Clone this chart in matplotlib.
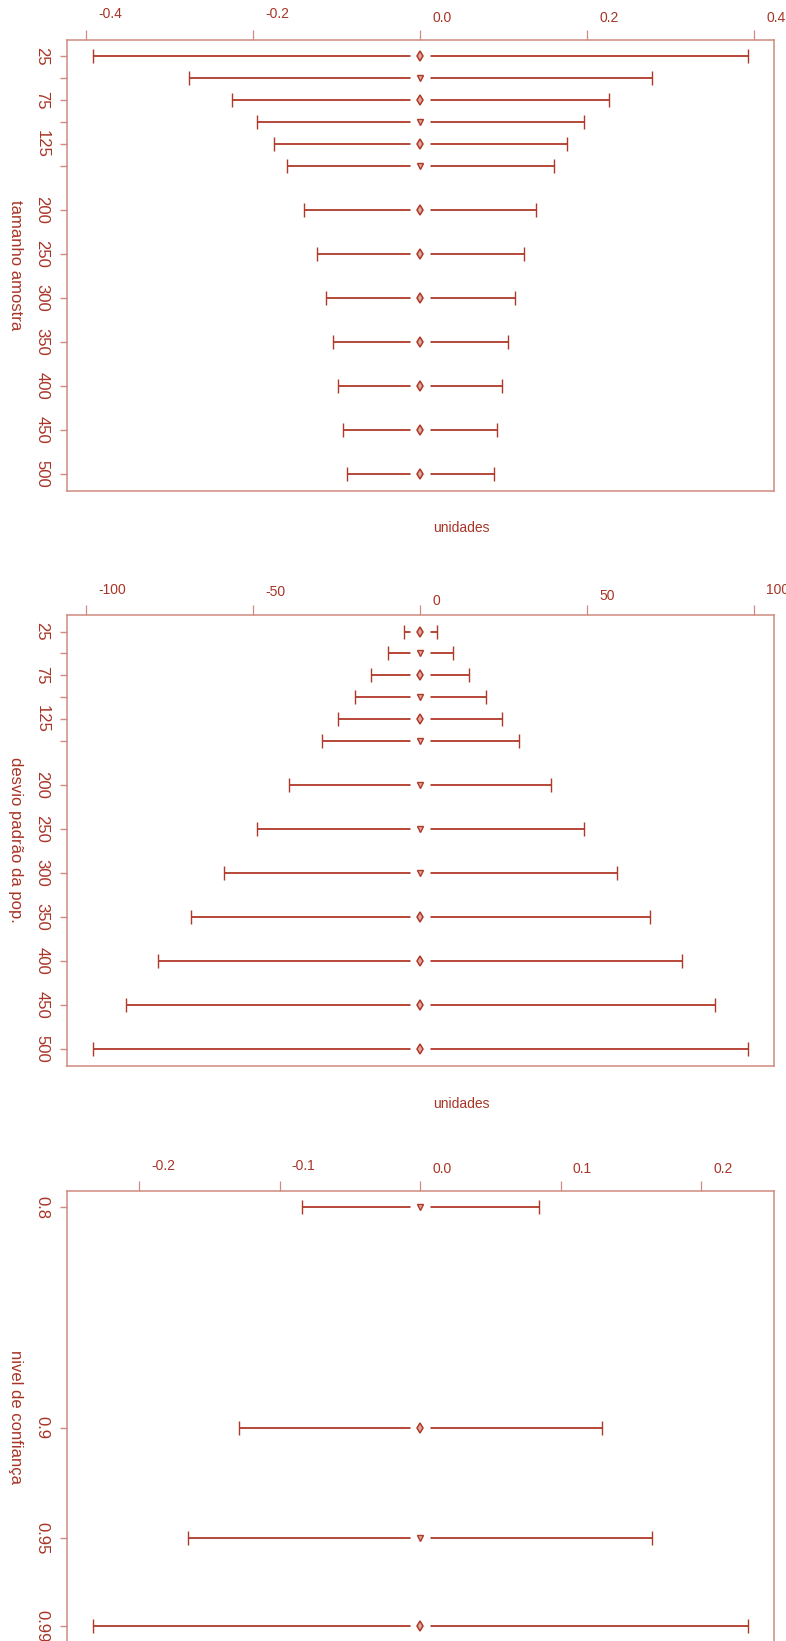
import matplotlib
matplotlib.use('Agg')
import matplotlib.pyplot as plt
from matplotlib.path import Path

# ---------------- data ----------------
sample_sizes = [25, 50, 75, 100, 125, 150, 200, 250, 300, 350, 400, 450, 500]
sample_labels = ['25', '', '75', '', '125', '', '200', '250', '300', '350', '400', '450', '500']
halfwidth_n = [0.392, 0.277, 0.226, 0.196, 0.175, 0.160, 0.139, 0.124, 0.113, 0.105, 0.098, 0.092, 0.088]
markers_n = ['d', 'v', 'd', 'v', 'd', 'v', 'd', 'd', 'd', 'd', 'd', 'd', 'd']
xticks_n = [-0.4, -0.2, 0.0, 0.2, 0.4]
xticklabels_n = ['-0.4', '-0.2', '0.0', '0.2', '0.4']

pop_sd = [25, 50, 75, 100, 125, 150, 200, 250, 300, 350, 400, 450, 500]
pop_sd_labels = ['25', '', '75', '', '125', '', '200', '250', '300', '350', '400', '450', '500']
halfwidth_sd = [4.9, 9.8, 14.7, 19.6, 24.5, 29.4, 39.2, 49.0, 58.8, 68.6, 78.4, 88.2, 98.0]
markers_sd = ['d', 'v', 'd', 'v', 'd', 'v', 'v', 'v', 'v', 'd', 'd', 'd', 'd']
xticks_sd = [-100, -50, 0, 50, 100]
xticklabels_sd = ['-100', '-50', '0', '50', '100']

conf_levels = [0.8, 0.9, 0.95, 0.99]
conf_labels = ['0.8', '0.9', '0.95', '0.99']
halfwidth_conf = [0.0845, 0.129, 0.165, 0.233]
markers_conf = ['v', 'd', 'v', 'd']
xticks_conf = [-0.2, -0.1, 0.0, 0.1, 0.2]
xticklabels_conf = ['-0.2', '-0.1', '0.0', '0.1', '0.2']

point_estimate = 0.0  # every interval is centred on 0

# ---------------- style ----------------
LINE = '#B03828'
TXT = '#A83426'
BOX = '#D08A80'
NARROW = ['Liberation Sans Narrow', 'Liberation Sans']
REG = ['Liberation Sans', 'DejaVu Sans']
FS_H = 10.0
FS_V = 12

W, H = 786, 1641
fig = plt.figure(figsize=(W / 100, H / 100), dpi=100)


def rect(top_px, height_px=451.0, left_px=66.7, right_px=774.0):
    return [left_px / W, 1 - (top_px + height_px) / H, (right_px - left_px) / W, height_px / H]


gap_marker = Path([(-1, -0.2), (1, -0.2), (1, 0.2), (-1, 0.2), (-1, -0.2)],
                  [Path.MOVETO, Path.LINETO, Path.LINETO, Path.LINETO, Path.CLOSEPOLY])

tick_texts = []


def panel(ax, yvals, ylabels, hws, mks, xticks, xticklabels, ylabel, xlabel):
    hi = max(hws)
    pad = 0.04 * (2 * hi)
    ax.set_xlim(-hi - pad, hi + pad)
    ylo, yhi = min(yvals), max(yvals)
    ypad = 0.04 * (yhi - ylo)
    ax.set_ylim(yhi + ypad, ylo - ypad)

    centres = [point_estimate for _ in yvals]
    ax.errorbar(centres, yvals, xerr=hws, fmt='none', ecolor=LINE,
                elinewidth=1.3, capsize=4.8, capthick=1.0, zorder=2)
    ax.plot(centres, yvals, ls='none', marker=gap_marker, ms=15,
            mfc='white', mec='none', zorder=3)
    for c, y, m in zip(centres, yvals, mks):
        if m == 'd':
            ax.plot(c, y, marker='d', ms=5.0, mfc='#E0A89E', mec=LINE, mew=1.1, zorder=4)
        else:
            ax.plot(c, y, marker='v', ms=3.8, mfc='#E0A89E', mec=LINE, mew=1.0, zorder=4)

    for s in ax.spines.values():
        s.set_color(BOX)
        s.set_linewidth(1.1)

    ax.xaxis.tick_top()
    ax.set_xticks(xticks)
    ax.set_xticklabels([''] * len(xticks))
    ax.tick_params(axis='x', direction='out', length=7.5, width=0.9, color=BOX)

    ax.set_yticks(yvals)
    ax.set_yticklabels(ylabels, rotation=270, va='center', ha='right',
                       fontsize=FS_V, color=TXT, family=REG)
    ax.tick_params(axis='y', direction='out', length=5.4, width=1.0, color=BOX, pad=7)

    ax.set_ylabel(ylabel, rotation=270, fontsize=FS_V, color=TXT, family=REG,
                  va='center', ha='center')
    ax.yaxis.set_label_coords((15 - 66.7) / (774 - 66.7), 0.5)

    for v, s in zip(xticks, xticklabels):
        t = ax.annotate(s, xy=(v, 1), xycoords=('data', 'axes fraction'),
                        xytext=(12, 14), textcoords='offset pixels',
                        ha='left', va='bottom', fontsize=FS_H, color=TXT,
                        family=NARROW, annotation_clip=False)
        tick_texts.append(t)

    if xlabel:
        ax.annotate(xlabel, xy=(0.5, 0), xycoords='axes fraction',
                    xytext=(13, -31), textcoords='offset pixels',
                    ha='left', va='top', fontsize=FS_H, color=TXT,
                    family=NARROW, annotation_clip=False)


ax1 = fig.add_axes(rect(39.5))
panel(ax1, sample_sizes, sample_labels, halfwidth_n, markers_n,
      xticks_n, xticklabels_n, 'tamanho amostra', 'unidades')

ax2 = fig.add_axes(rect(614.8))
panel(ax2, pop_sd, pop_sd_labels, halfwidth_sd, markers_sd,
      xticks_sd, xticklabels_sd, 'desvio padrão da pop.', 'unidades')

ax3 = fig.add_axes(rect(1190.7, height_px=452.5))
panel(ax3, conf_levels, conf_labels, halfwidth_conf, markers_conf,
      xticks_conf, xticklabels_conf, 'nivel de confiança', None)

# raise each top tick label according to its width (as in the reference)
fig.canvas.draw()
r = fig.canvas.get_renderer()
for t in tick_texts:
    w = t.get_window_extent(r).width
    t.xyann = (12, min(0.72 * w + 1, 18))

fig.savefig('out.png', dpi=100)
